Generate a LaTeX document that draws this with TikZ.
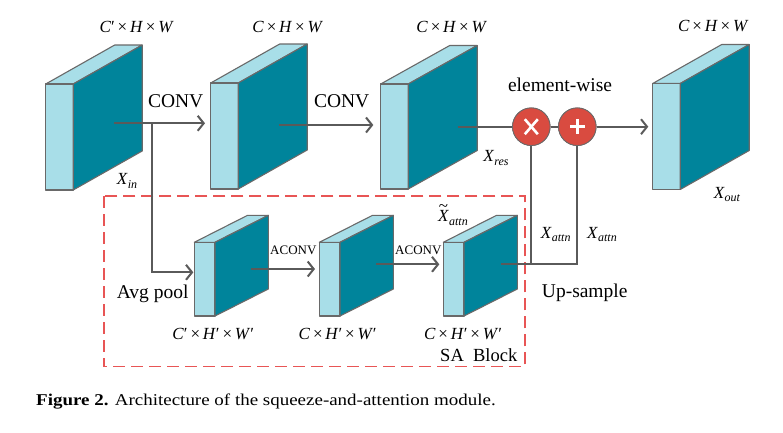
\documentclass[tikz,border=0pt]{standalone}
\usepackage{fontspec}
\setmainfont{Liberation Serif}
\usetikzlibrary{arrows.meta,calc}
\definecolor{lightface}{RGB}{168,222,232}
\definecolor{darkface}{RGB}{0,132,155}
\definecolor{edgegray}{RGB}{105,105,105}
\definecolor{linegray}{RGB}{90,90,90}
\definecolor{opred}{RGB}{217,75,64}
\definecolor{dashred}{RGB}{232,85,85}
% #1 x, #2 ytop, #3 w, #4 h, #5 dx, #6 dy
\newcommand\fblock[6]{%
  \draw[blockedge,fill=lightface] (#1,#2) -- ({#1+#5},{#2-#6}) -- ({#1+#3+#5},{#2-#6}) -- ({#1+#3},#2) -- cycle;
  \draw[blockedge,fill=lightface] (#1,#2) rectangle ({#1+#3},{#2+#4});
  \draw[blockedge,fill=darkface] ({#1+#3},#2) -- ({#1+#3+#5},{#2-#6}) -- ({#1+#3+#5},{#2+#4-#6}) -- ({#1+#3},{#2+#4}) -- cycle;
}
\newcommand\itsub[2]{\textit{#1}\raisebox{-0.45ex}{\fontsize{12}{12}\selectfont\textit{#2}}}
\newcommand\tildeX{\leavevmode\rlap{\hspace{0.5pt}\raisebox{0.62em}{\char"7E}}\textit{X}}
\begin{document}
\begin{tikzpicture}[x=1pt,y=-1pt,
  blockedge/.style={draw=edgegray,line width=1.1pt,line join=round},
  conn/.style={draw=linegray,line width=2pt},
  arr/.style={conn,-{Straight Barb[length=6pt,width=15pt,line width=2pt]}},
  lbl/.style={font=\fontsize{17}{17}\selectfont,inner sep=0pt},
  big/.style={font=\fontsize{19.5}{20}\selectfont,inner sep=0pt},
  op/.style={circle,fill=opred,draw=edgegray,line width=0.8pt,minimum size=37.6pt,inner sep=0pt},
  small/.style={font=\fontsize{13}{13}\selectfont,inner sep=0pt}]
\useasboundingbox (0,0) rectangle (783,432);
\fill[white] (0,0) rectangle (783,432);

% SA block frame
\draw[dashred,line width=1.2pt,dash pattern=on 12pt off 6pt] (104,196) rectangle (525,366.7);
\node[inner sep=0pt,font=\fontsize{18.5}{19}\selectfont,anchor=east] (sal) at (517.5,355) {SA\ \ Block};

% large blocks
\fblock{45.7}{84}{27.5}{106}{69}{39}
\fblock{210.7}{83}{27.5}{106}{69}{39}
\fblock{380.7}{84}{27.5}{105}{69}{38.5}
\fblock{652.7}{83.5}{27.5}{106}{69}{39}
% small blocks
\fblock{194.3}{242.3}{20.7}{73.7}{53.3}{27}
\fblock{319.3}{242.3}{20.7}{73.7}{53.3}{27}
\fblock{443.3}{242.3}{20.7}{73.7}{53.3}{27}

% anchor coordinates
\coordinate (b1o) at (114.3,123.3);
\coordinate (n1) at (152.3,123.3);
\coordinate (b2in) at (205,123.3);
\coordinate (b2o) at (279.3,125);
\coordinate (b3in) at (373.3,125);
\coordinate (b3o) at (457.7,126.7);
\coordinate (b4in) at (648.3,126.7);
\coordinate (s1in) at (193.3,272.3);
\coordinate (s1o) at (251,269);
\coordinate (s2in) at (315,269);
\coordinate (s2o) at (376,264.3);
\coordinate (s3in) at (439.3,264.3);
\coordinate (s3o) at (500.7,264.3);

\node[op] (mul) at (531.3,126.7) {};
\node[op] (add) at (577.3,126.7) {};

% connectors
\draw[arr] (b1o) -- (b2in);
\draw[arr] (n1) |- (s1in);
\draw[arr] (b2o) -- (b3in);
\draw[conn] (b3o) -- (mul);
\draw[conn] (mul) -- (add);
\draw[arr] (add) -- (b4in);
\draw[arr] (s1o) -- (s2in);
\draw[arr] (s2o) -- (s3in);
\draw[conn] (s3o) -| (add.south);
\draw[conn] (mul.south) -- (mul.south |- s3o);

% redraw circles on top
\node[op] at (mul) {};
\node[op] at (add) {};
\draw[white,line width=2.6pt] ($(mul)+(-6.5,-7.5)$) -- ($(mul)+(6.5,7.5)$);
\draw[white,line width=2.6pt] ($(mul)+(-6.5,7.5)$) -- ($(mul)+(6.5,-7.5)$);
\draw[white,line width=2.8pt] ($(add)+(-7.5,0)$) -- ($(add)+(7.5,0)$);
\draw[white,line width=2.8pt] ($(add)+(0,-7.5)$) -- ($(add)+(0,7.5)$);

% labels
\node[lbl] (t1) at (136.7,26.7) {\textit{C}′\,×\,\textit{H}\,×\,\textit{W}};
\node[lbl] (t2) at (287.7,26.7) {\textit{C}\,×\,\textit{H}\,×\,\textit{W}};
\node[lbl] (t3) at (451.7,26.7) {\textit{C}\,×\,\textit{H}\,×\,\textit{W}};
\node[lbl] (t4) at (713.3,26.3) {\textit{C}\,×\,\textit{H}\,×\,\textit{W}};
\node[big] (c1) at (175.7,101) {CONV};
\node[big] (c2) at (341.7,101) {CONV};
\node[big] (ew) at (560,85) {element-wise};
\node[lbl] (xin) at (127,181) {\itsub{X}{in}};
\node[lbl] (xres) at (496,158) {\itsub{X}{res}};
\node[lbl] (xout) at (727,194.5) {\itsub{X}{out}};
\node[lbl] (xa1) at (555.7,234.5) {\itsub{X}{attn}};
\node[lbl] (xa2) at (602,234.5) {\itsub{X}{attn}};
\node[lbl] (xat) at (453,215) {\itsub{\tildeX}{attn}};
\node[big] (up) at (584.7,293.3) {Up-sample};
\node[big] (avg) at (152.7,294) {Avg pool};
\node[small] (a1) at (293.3,250.7) {ACONV};
\node[small] (a2) at (418.3,250.7) {ACONV};
\node[lbl] (s1) at (213.3,334) {\textit{C}′\,×\,\textit{H}′\,×\,\textit{W}′};
\node[lbl] (s2) at (337.7,334) {\textit{C}\,×\,\textit{H}′\,×\,\textit{W}′};
\node[lbl] (s3) at (463,334) {\textit{C}\,×\,\textit{H}′\,×\,\textit{W}′};

% caption
\node[inner sep=0pt,anchor=west] (cap) at (36,401.7) {\scalebox{1.15}[1]{\fontsize{16.5}{17}\selectfont\textbf{Figure 2.} Architecture of the squeeze-and-attention module.}};
\end{tikzpicture}
\end{document}
